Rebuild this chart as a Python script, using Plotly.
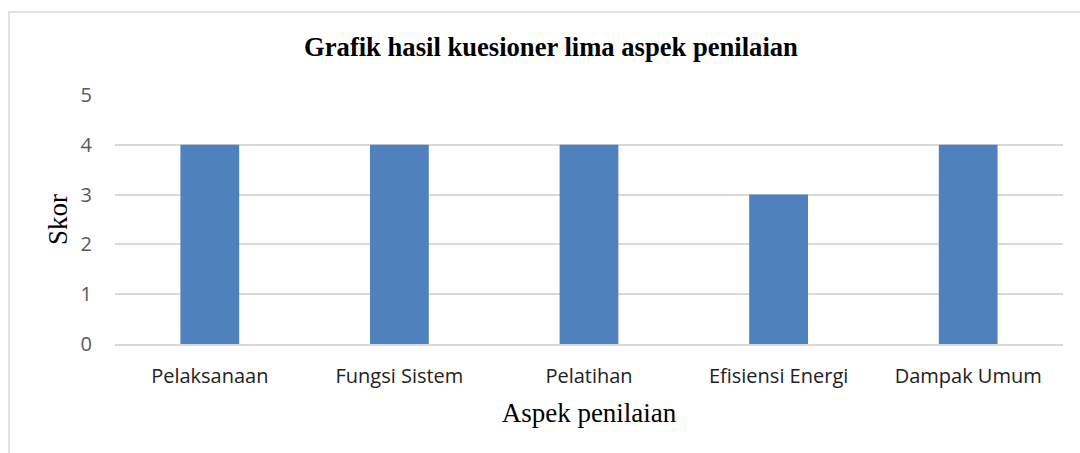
import plotly.graph_objects as go

categories = ["Pelaksanaan", "Fungsi Sistem", "Pelatihan", "Efisiensi Energi", "Dampak Umum"]
scores = [4, 4, 4, 3, 4]
y_ticks = [0, 1, 2, 3, 4, 5]

fig = go.Figure()
fig.add_trace(go.Bar(x=categories, y=scores, marker=dict(color="#4F81BD", line=dict(width=0)), width=0.31))

W, H = 1080, 453
x0, x1 = 115, 1063
ytop, ybot = 95, 344

fig.update_layout(
    width=W, height=H,
    margin=dict(l=x0, r=W - x1, t=ytop, b=H - ybot),
    paper_bgcolor="white", plot_bgcolor="white",
    showlegend=False,
    title=dict(text="<b>Grafik hasil kuesioner lima aspek penilaian</b>",
               x=551 / W, xanchor="center", y=1 - 47 / H, yanchor="middle",
               font=dict(family="Liberation Serif", size=26.6, color="black")),
    xaxis=dict(showgrid=False, showline=True, linecolor="#d9d9d9", linewidth=2,
               tickfont=dict(family="Open Sans", size=20, color="#222222"),
               ticks="", ticklabelstandoff=13,
               title=dict(text="Aspek penilaian", standoff=15,
                          font=dict(family="Liberation Serif", size=27, color="black"))),
    yaxis=dict(range=[0, 5], tickvals=y_ticks, showgrid=True, gridcolor="#d9d9d9", gridwidth=1.5,
               zeroline=False, showline=False, ticks="", ticklabelstandoff=22,
               tickfont=dict(family="Open Sans", size=20, color="#595959"),
               title=dict(text="Skor", standoff=5,
                          font=dict(family="Liberation Serif", size=27, color="black"))),
    shapes=[dict(type="rect", xref="paper", yref="paper",
                 x0=(9 - x0) / (x1 - x0), x1=(1100 - x0) / (x1 - x0),
                 y0=(ybot - 470) / (ybot - ytop), y1=(ybot - 12) / (ybot - ytop),
                 line=dict(color="#d9d9d9", width=1.5), layer="below")],
)

fig.write_html("out.html", config={"displayModeBar": False},
               post_script="document.body.style.margin='0';document.body.style.overflow='hidden';")
